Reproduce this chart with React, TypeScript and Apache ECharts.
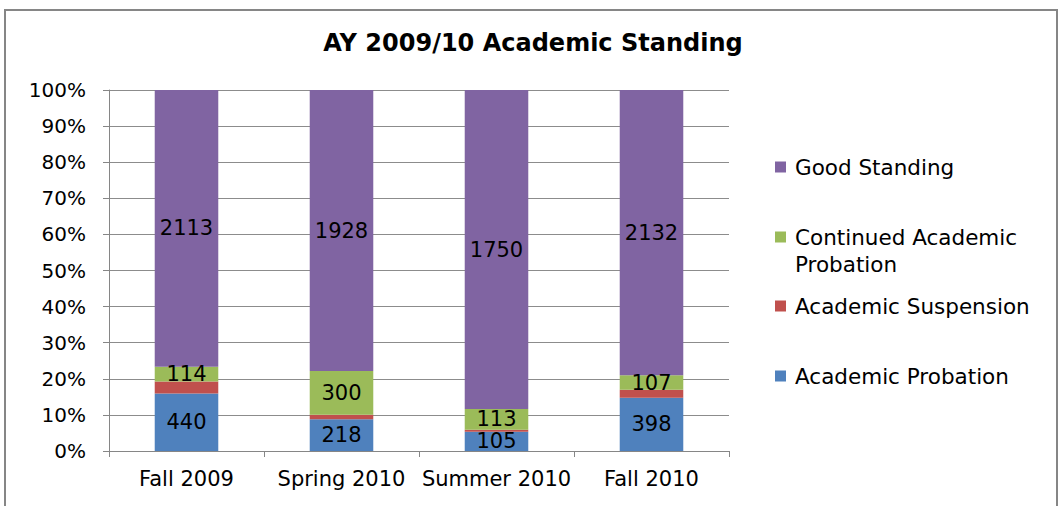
import React, { useEffect, useRef } from "react";
import * as echarts from "echarts";

const categories = ["Fall 2009", "Spring 2010", "Summer 2010", "Fall 2010"];
const academicProbation = [440, 218, 105, 398];
const academicSuspension = [90, 30, 12, 60];
const continuedProbation = [114, 300, 113, 107];
const goodStanding = [2113, 1928, 1750, 2132];
const yTicks = [0, 10, 20, 30, 40, 50, 60, 70, 80, 90, 100];

const colors = {
  prob: "#4F81BD",
  susp: "#C0504D",
  cont: "#9BBB59",
  good: "#8064A2",
};

export default function App() {
  const ref = useRef<HTMLDivElement>(null);
  useEffect(() => {
    document.body.style.margin = "0";
    const chart = echarts.init(ref.current!, null, { renderer: "svg" });
    const totals = categories.map(
      (_, i) =>
        academicProbation[i] + academicSuspension[i] + continuedProbation[i] + goodStanding[i]
    );
    const pct = (arr: number[]) => arr.map((v, i) => (v / totals[i]) * 100);
    const font = "DejaVu Sans";
    const mkSeries = (name: string, arr: number[], color: string, showLabel: boolean) => ({
      name,
      type: "bar",
      stack: "s",
      barWidth: "41%",
      data: pct(arr),
      itemStyle: { color },
      label: {
        show: showLabel,
        position: "inside",
        color: "#000",
        fontFamily: font,
        fontSize: 21,
        formatter: (p: any) => String(arr[p.dataIndex]),
      },
    });
    const legendBase = {
      orient: "vertical",
      left: 775,
      padding: 0,
      itemWidth: 11,
      itemHeight: 11,
      itemGap: 0,
      icon: "rect",
      selectedMode: false,
      textStyle: { fontFamily: font, fontSize: 21.5, color: "#000", padding: [0, 0, 0, 4] },
    };
    chart.setOption({
      animation: false,
      title: {
        text: "AY 2009/10 Academic Standing",
        left: 533,
        textAlign: "center",
        top: 31,
        padding: 0,
        textStyle: {
          fontFamily: "DejaVu Sans",
          fontWeight: "bold",
          fontSize: 24,
          color: "#000",
        },
      },
      graphic: [
        {
          type: "rect",
          shape: { x: 5, y: 10, width: 1052, height: 510 },
          style: { fill: "none", stroke: "#868686", lineWidth: 2 },
          silent: true,
        },
        {
          type: "text",
          left: 795,
          top: 253,
          style: { text: "Probation", fontFamily: font, fontSize: 21.5, fill: "#000" },
        },
      ],
      legend: [
        { ...legendBase, top: 156, data: ["Good Standing"] },
        {
          ...legendBase,
          top: 226,
          data: ["Continued Academic Probation"],
          formatter: () => "Continued Academic",
        },
        { ...legendBase, top: 295, data: ["Academic Suspension"] },
        { ...legendBase, top: 365, data: ["Academic Probation"] },
      ],
      grid: { left: 109, right: 332, top: 90, bottom: 55 },
      xAxis: {
        type: "category",
        data: categories,
        axisLine: { lineStyle: { color: "#868686", width: 1 } },
        axisTick: { show: true, length: 6, lineStyle: { color: "#868686" } },
        axisLabel: { interval: 0, fontFamily: font, fontSize: 21, color: "#000", margin: 17 },
      },
      yAxis: {
        type: "value",
        min: 0,
        max: 100,
        interval: 10,
        axisLine: { show: true, lineStyle: { color: "#868686" } },
        axisTick: { show: true, length: 6, lineStyle: { color: "#868686" } },
        axisLabel: {
          fontFamily: font,
          fontSize: 20,
          color: "#000",
          margin: 23,
          formatter: (v: number) => (yTicks.includes(v) ? v + "%" : ""),
        },
        splitLine: { lineStyle: { color: "#8c8c8c", width: 1 } },
      },
      series: [
        mkSeries("Academic Probation", academicProbation, colors.prob, true),
        mkSeries("Academic Suspension", academicSuspension, colors.susp, false),
        mkSeries("Continued Academic Probation", continuedProbation, colors.cont, true),
        mkSeries("Good Standing", goodStanding, colors.good, true),
      ],
    });
    return () => chart.dispose();
  }, []);
  return <div ref={ref} style={{ width: 1061, height: 506 }} />;
}
